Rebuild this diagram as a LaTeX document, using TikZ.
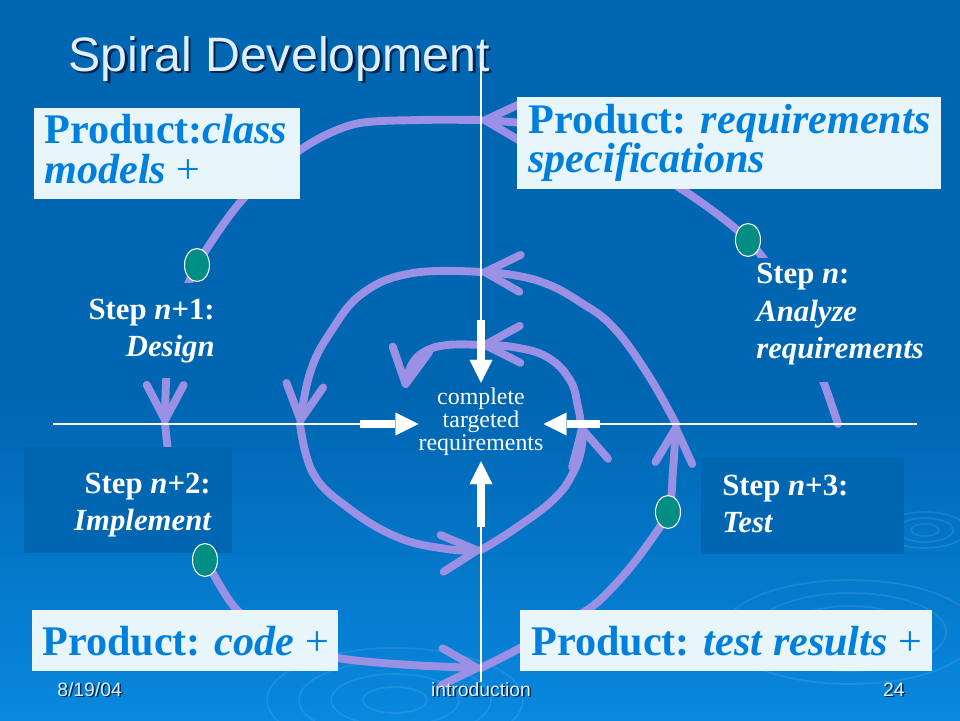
\documentclass[tikz,border=0pt]{standalone}
\usepackage{fontspec}
\setmainfont{Liberation Serif}
\newfontfamily\slidesans{Liberation Sans}
\usetikzlibrary{arrows.meta,shapes.geometric}

\definecolor{bgtop}{RGB}{0,102,178}
\definecolor{bgbot}{RGB}{8,136,222}
\definecolor{lavender}{RGB}{155,145,228}
\definecolor{prodblue}{RGB}{0,128,220}
\definecolor{prodfill}{RGB}{232,246,252}
\definecolor{dotteal}{RGB}{0,142,132}
\definecolor{titlewhite}{RGB}{222,238,255}
\definecolor{shadowblue}{RGB}{0,36,78}

\tikzset{
  spiralarc/.style={draw=lavender, line width=4.5pt, line cap=round, line join=round,
    -{Straight Barb[length=20pt,width=21pt,round]}},
  pusharrow/.style={draw=white, line width=4.5pt,
    -{Triangle[length=13pt,width=13pt,line width=0.1pt]}},
  axis/.style={draw=white, line width=0.8pt},
  stepdot/.style={ellipse, fill=dotteal, draw=white, line width=0.6pt, inner sep=0pt,
    minimum width=0.5cm, minimum height=0.66cm},
  prodtext/.style={text=prodblue, inner sep=0pt, font=\fontsize{24}{24}\selectfont\bfseries},
  steptext/.style={text=white, inner sep=0pt, font=\fontsize{17.5}{21}\selectfont\bfseries},
  goaltext/.style={text=white, align=center, inner xsep=0pt, inner ysep=3pt,
    font=\fontsize{13.6}{13}\selectfont},
  titletext/.style={inner sep=0pt, font=\slidesans\fontsize{27.5}{32}\selectfont},
  foottext/.style={inner sep=0pt, font=\slidesans\fontsize{11}{13}\selectfont},
  ripple/.style={draw=white, draw opacity=0.09, line width=1pt}
}

\begin{document}
\begin{tikzpicture}[x=0.02cm, y=-0.02cm]
% slide background
\useasboundingbox (0,0) rectangle (960,720);
\fill[bgtop] (0,0) rectangle (960,401);
\shade[top color=bgtop, bottom color=bgbot] (0,400) rectangle (960,720);
\foreach \r in {1,2,3,4}
  \draw[ripple] (850,632) ellipse [x radius=\r*32, y radius=\r*13];
\foreach \r in {1,2,3}
  \draw[ripple] (925,530) ellipse [x radius=\r*14, y radius=\r*6];
\foreach \r in {1,2,3,4}
  \draw[ripple] (395,700) ellipse [x radius=\r*32, y radius=\r*13];

% title
\node[titletext, text=shadowblue, anchor=base west] (titleshadow) at (70.5,73.5) {Spiral Development};
\node[titletext, text=titlewhite, anchor=base west] (title) at (68,71) {Spiral Development};

% axis crossings of the spiral
\coordinate (e0) at (838,424);
\coordinate (n1) at (481,120);
\coordinate (w1) at (165,424);
\coordinate (s1) at (481,668);
\coordinate (e1) at (676,424);
\coordinate (n2) at (481,272);
\coordinate (w2) at (300,424);
\coordinate (s2) at (481,550);
\coordinate (e2) at (581,425);
\coordinate (n3) at (481,345);
\coordinate (c3) at (405,388);

% the target in the middle
\node[goaltext] (goal) at (481,422) {complete\\targeted\\requirements};
\coordinate (pushN) at (481,320);
\coordinate (pushS) at (481,527);
\coordinate (pushW) at (360,424);
\coordinate (pushE) at (600,424);

% the spiral, outside in
\draw[spiralarc] plot[smooth] coordinates {(e0) (822,378) (790,300) (748,240) (683,190) (600,143) (535,125) (n1)};
\draw[spiralarc] plot[smooth] coordinates {(n1) (420,120) (355,124) (303,148) (243,199) (197,265) (178,315) (167,370) (w1)};
\draw[spiralarc] plot[smooth] coordinates {(w1) (172,480) (185,530) (205,560) (237,610) (285,642) (338,658) (410,665) (s1)};
\draw[spiralarc] plot[smooth] coordinates {(s1) (520,648) (587,610) (613,587) (640,555) (668,512) (673,470) (e1)};
\draw[spiralarc] plot[smooth, tension=0.7] coordinates {(e1) (647,373) (613,327) (580,302) (547,284) (513,275) (n2)};
\draw[spiralarc] plot[smooth, tension=0.7] coordinates {(n2) (413,273) (363,293) (330,333) (310,373) (w2)};
\draw[spiralarc] plot[smooth, tension=0.7] coordinates {(w2) (313,473) (347,507) (397,537) (447,549) (s2)};
\draw[spiralarc] plot[smooth, tension=0.7] coordinates {(s2) (513,530) (553,500) (573,473) (582,445) (e2)};
\draw[spiralarc] plot[smooth, tension=0.7] coordinates {(e2) (578,407) (570,380) (547,357) (513,347) (n3)};
\draw[spiralarc] plot[smooth, tension=0.7] coordinates {(n3) (447,345) (424,352) (411,366) (c3)};

% axes, stopped where the white arrows start
\draw[axis] (481,62) -- (pushN);
\draw[axis] (pushS) -- (481,682);
\draw[axis] (53,424) -- (pushW);
\draw[axis] (pushE) -- (917,424);

% step label boxes
\fill[bgtop] (745,258) rectangle (940,382);
\fill[bgtop] (60,283) rectangle (232,378);
\fill[bgtop] (24,447) rectangle (232,553);
\fill[bgtop] (701,458) rectangle (904,554);

% product boxes
\fill[prodfill] (34,108) rectangle (300,199);
\fill[prodfill] (517,97) rectangle (941,189);
\fill[prodfill] (32,610) rectangle (338,671);
\fill[prodfill] (520,610) rectangle (932,671);

\node[prodtext, anchor=base west] (class1) at (44,143) {Product:\textit{class}};
\node[prodtext, anchor=base west] (class2) at (44,183) {\textit{models} {\mdseries +}};
\node[prodtext, anchor=base west] (reqs1) at (528,133) {Product: \textit{requirements}};
\node[prodtext, anchor=base west] (reqs2) at (528,172) {\textit{specifications}};
\node[prodtext, anchor=base west] (code) at (42,655) {Product: \textit{code} {\mdseries +}};
\node[prodtext, anchor=base west] (results) at (531,655) {Product: \textit{test results} {\mdseries +}};

% steps
\node[stepdot] (dotn) at (748,240) {};
\node[stepdot] (dotn1) at (197,265) {};
\node[stepdot] (dotn2) at (205,560) {};
\node[stepdot] (dotn3) at (668,512) {};

\node[steptext, anchor=base west] (analyze1) at (756,283) {Step \textit{n}:};
\node[steptext, anchor=base west] (analyze2) at (756,321) {\textit{Analyze}};
\node[steptext, anchor=base west] (analyze3) at (756,358) {\textit{requirements}};
\node[steptext, anchor=base east] (design1) at (215,319) {Step \textit{n}+1:};
\node[steptext, anchor=base east] (design2) at (215,356) {\textit{Design}};
\node[steptext, anchor=base east] (implement1) at (211,493) {Step \textit{n}+2:};
\node[steptext, anchor=base east] (implement2) at (212,530) {\textit{Implement}};
\node[steptext, anchor=base west] (test1) at (722,495) {Step \textit{n}+3:};
\node[steptext, anchor=base west] (test2) at (722,532) {\textit{Test}};

% white arrows onto the target
\draw[pusharrow] (pushN) -- (goal.north);
\draw[pusharrow] (pushS) -- (goal.south);
\draw[pusharrow] (pushW) -- (pushW -| goal.west);
\draw[pusharrow] (pushE) -- (pushE -| goal.east);

% footer
\node[foottext, text=shadowblue, anchor=base west] (dateshadow) at (58.5,697.5) {8/19/04};
\node[foottext, text=titlewhite, anchor=base west] (date) at (57,696) {8/19/04};
\node[foottext, text=shadowblue, anchor=base] (chaptershadow) at (482.5,697.5) {introduction};
\node[foottext, text=titlewhite, anchor=base] (chapter) at (481,696) {introduction};
\node[foottext, text=shadowblue, anchor=base east] (pageshadow) at (906.5,697.5) {24};
\node[foottext, text=titlewhite, anchor=base east] (page) at (905,696) {24};
\end{tikzpicture}
\end{document}
